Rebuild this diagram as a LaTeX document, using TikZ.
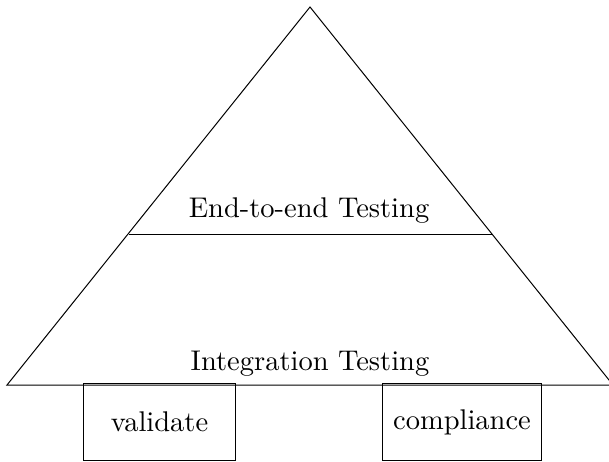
\documentclass[tikz,border=0pt]{standalone}
\newcommand{\bigtxt}[1]{\scalebox{2.85}{#1}}
\begin{document}
\begin{tikzpicture}[x=1pt,y=1pt,line width=1pt,
  lbl/.style={inner sep=0pt, anchor=base},
  boxnode/.style={draw, minimum height=77pt, inner sep=0pt, anchor=south west}]
\useasboundingbox (0,0) rectangle (609,461);
\begin{scope}
\clip (0,0) rectangle (609,461);
\coordinate (apex) at (310,454);
\coordinate (bl) at (7,76);
\coordinate (br) at (613,76);
\coordinate (ml) at (128.5,227);
\coordinate (mr) at (491.5,227);
\draw (bl) -- (apex) -- (br) -- cycle;
\draw (ml) -- (mr);
\node[lbl] (e2e) at (309,244) {\bigtxt{End-to-end Testing}};
\node[lbl] (integ) at (310,91) {\bigtxt{Integration Testing}};
\node[boxnode, minimum width=152pt] (val) at (83,0) {\bigtxt{validate}};
\node[boxnode, minimum width=159pt] (comp) at (382,0) {\bigtxt{compliance}};
\end{scope}
\end{tikzpicture}
\end{document}
